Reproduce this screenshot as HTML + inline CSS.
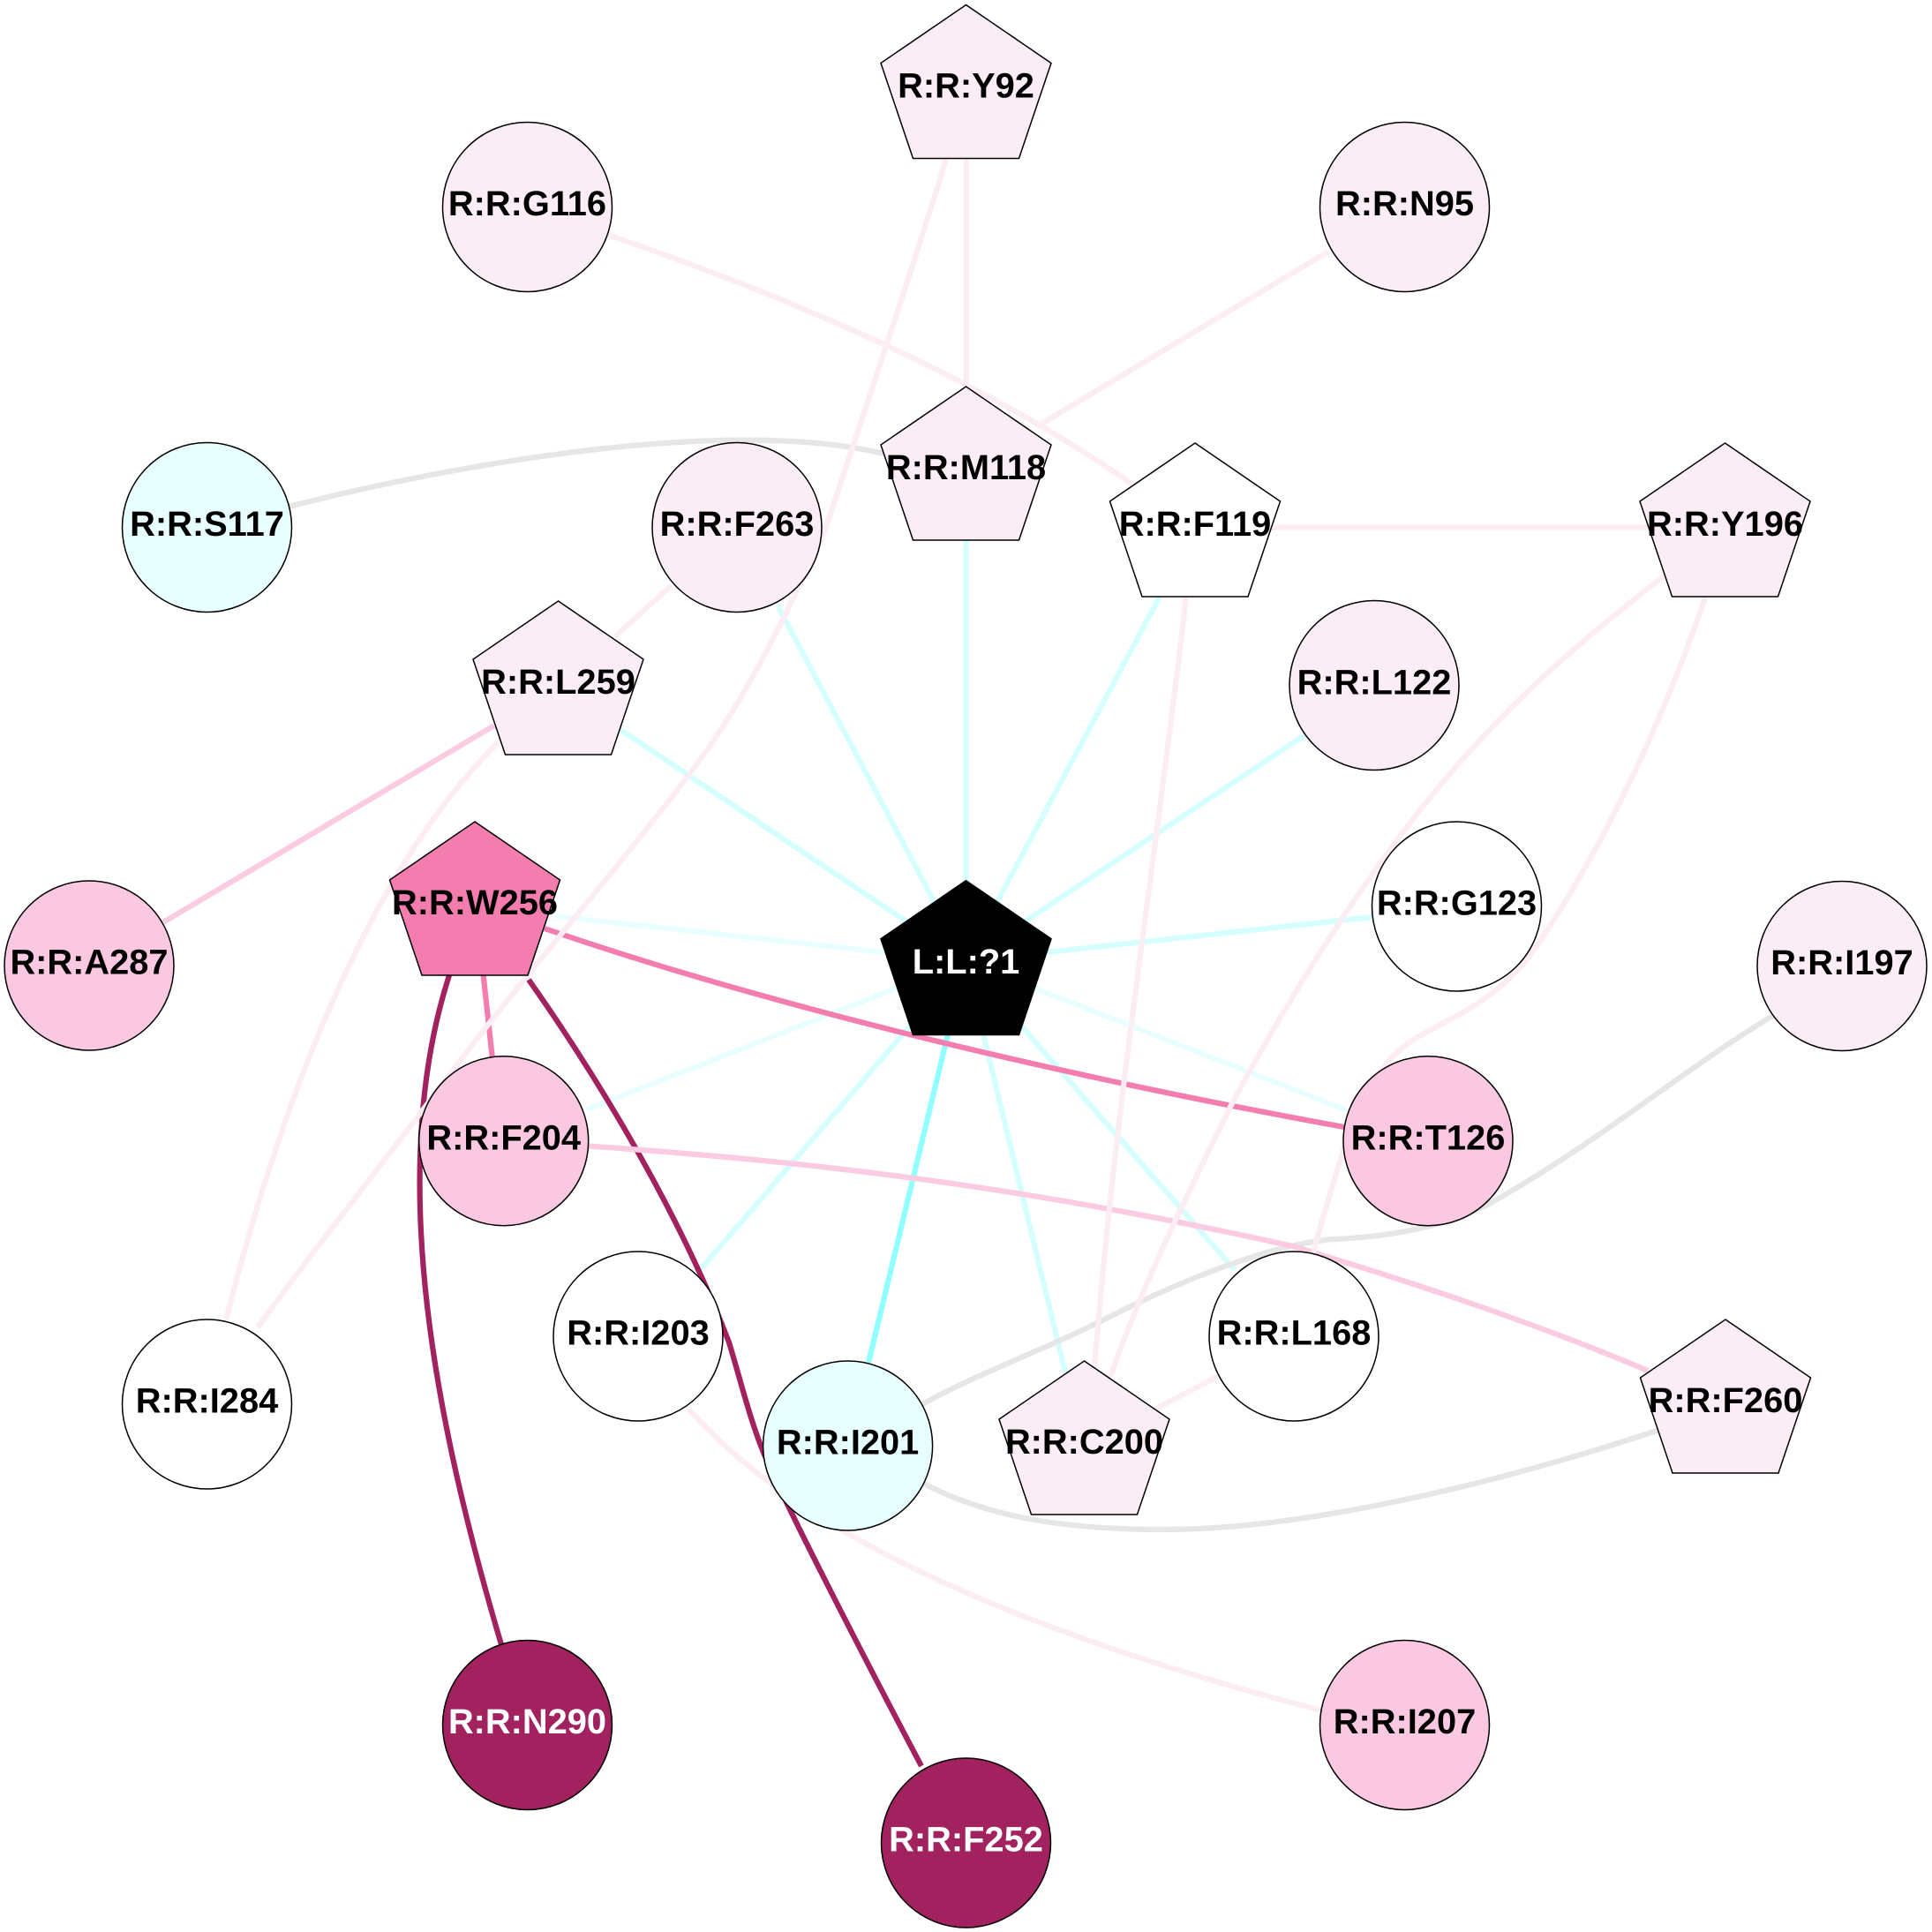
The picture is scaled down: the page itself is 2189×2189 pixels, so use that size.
<!DOCTYPE html>
<html>
<head>
<meta charset="utf-8">
<style>
html,body{margin:0;padding:0;background:#fff;}
svg{display:block;}
text{font-family:"Liberation Sans",Arial,sans-serif;font-weight:bold;font-size:39.8px;text-anchor:middle;fill:#000;text-rendering:geometricPrecision;}
text.w{fill:#fff;}
.n{stroke:#000;stroke-width:1.5;}
.e path,.e line{fill:none;stroke-width:6.2;}
</style>
</head>
<body>
<svg width="2189" height="2189" viewBox="0 0 2189 2189" xmlns="http://www.w3.org/2000/svg">
<rect width="2189" height="2189" fill="#fff"/>
<g class="e" stroke="#d5ffff">
<line x1="702" y1="826" x2="1094" y2="1089"/>
<line x1="881" y1="686" x2="1094" y2="1089"/>
<line x1="1094.5" y1="600" x2="1094.5" y2="1089"/>
<line x1="1315" y1="674" x2="1094" y2="1089"/>
<line x1="1478" y1="833" x2="1094" y2="1089"/>
<line x1="1555" y1="1039" x2="1094" y2="1089"/>
<line x1="1399" y1="1439" x2="1120" y2="1120"/>
<line x1="1207" y1="1555" x2="1094" y2="1089"/>
<line x1="794" y1="1438" x2="1094" y2="1089"/>
<line x1="1526" y1="1258" x2="1094" y2="1089" stroke="#e9ffff"/>
<line x1="665" y1="1257" x2="1094" y2="1089" stroke="#e9ffff"/>
<line x1="628" y1="1038" x2="1094" y2="1089" stroke="#e9ffff"/>
<line x1="984" y1="1544" x2="1094" y2="1089" stroke="#91ffff"/>
</g>
<g class="e" stroke="#e6e6e6">
<path d="M327 574C520 525 830 470 1010 516"/>
<path d="M2010 1150C1910 1210 1810 1295 1689 1363C1640 1390 1570 1402 1510 1404C1440 1410 1340 1450 1255 1493C1180 1531 1110 1555 1045 1591"/>
<path d="M1045 1680C1120 1720 1210 1733 1319 1733C1480 1733 1700 1680 1880 1620"/>
</g>
<g class="e">
<path stroke="#f27dae" d="M617 1052C800 1115 1100 1200 1523 1277"/>
<line stroke="#f27dae" x1="546" y1="1090" x2="558" y2="1200"/>
<path stroke="#a2225f" stroke-width="6.6" d="M509 1105C435 1334 497 1623 567 1860L597 1954"/>
<path stroke="#a2225f" stroke-width="6.6" d="M599 1110C680 1225 770 1375 826 1521C838 1560 850 1610 866 1648C890 1705 980 1880 1044 2001"/>
</g>
<g class="e" stroke="#facbe1">
<path d="M660 1298C860 1312 1120 1335 1465 1412C1590 1450 1730 1495 1867 1553"/>
<line x1="560" y1="822" x2="185" y2="1045"/>
</g>
<g class="e" stroke="#fcecf4">
<path d="M689 266C860 325 1090 415 1282 548"/>
<path d="M1072 180C1045 270 985 450 935 600C890 700 840 800 787 869C720 960 590 1110 513 1213C440 1310 360 1410 292 1504"/>
<path d="M567 839C440 960 330 1200 255 1500"/>
<path d="M780 1596C880 1710 1080 1830 1497 1938"/>
<path d="M1886 652C1780 735 1690 810 1588 945C1510 1050 1450 1150 1395 1252C1360 1325 1300 1440 1258 1560"/>
<path d="M1932 677C1880 830 1810 970 1741 1072C1700 1130 1660 1145 1608 1174C1560 1200 1535 1260 1520 1310C1505 1360 1495 1390 1488 1420"/>
<path d="M1344 677C1305 1010 1265 1240 1240 1550"/>
<line x1="761" y1="663" x2="697" y2="721"/>
<line x1="1094.5" y1="175" x2="1094.5" y2="440"/>
<line x1="1505" y1="285" x2="1177" y2="482"/>
<line x1="1440" y1="597.5" x2="1870" y2="597.5"/>
<line x1="1379" y1="1560" x2="1306" y2="1598"/>
</g>

<g class="n">
<circle cx="597.5" cy="234.5" r="96" fill="#fbedf5"/>
<circle cx="1591.5" cy="234.5" r="96" fill="#fbedf5"/>
<circle cx="234.5" cy="597.5" r="96" fill="#e8ffff"/>
<circle cx="835" cy="597.5" r="96" fill="#fbedf5"/>
<circle cx="1557" cy="776.5" r="96" fill="#fbedf5"/>
<circle cx="101" cy="1094" r="96" fill="#fac8e0"/>
<circle cx="1650.5" cy="1027" r="96" fill="#fff"/>
<circle cx="2087" cy="1094.5" r="96" fill="#fbedf5"/>
<circle cx="570.7" cy="1292.7" r="96" fill="#fac8e0"/>
<circle cx="1618" cy="1292.7" r="96" fill="#fac8e0"/>
<circle cx="723" cy="1514" r="96" fill="#fff"/>
<circle cx="1466" cy="1514" r="96" fill="#fff"/>
<circle cx="234.5" cy="1591" r="96" fill="#fff"/>
<circle cx="960.6" cy="1638" r="96" fill="#e8ffff"/>
<circle cx="597.5" cy="1954.5" r="96" fill="#a2225f"/>
<circle cx="1591.5" cy="1954.5" r="96" fill="#fac8e0"/>
<circle cx="1094.5" cy="2088" r="96" fill="#a2225f"/>

<polygon fill="#fbedf5" points="1094.5,5.5 1191,71.5 1154.5,179.5 1034.5,179.5 998,71.5"/>
<polygon fill="#fbedf5" points="1094.5,438 1191,504 1154.5,612 1034.5,612 998,504"/>
<polygon fill="#ffffff" points="1354,502 1450.5,568 1414,676 1294,676 1257.5,568"/>
<polygon fill="#fbedf5" points="1954.5,502 2051,568 2014.5,676 1894.5,676 1858,568"/>
<polygon fill="#fbedf5" points="632.5,681 729,747 692.5,855 572.5,855 536,747"/>
<polygon fill="#f27dae" points="538,931 634.5,997 598,1105 478,1105 441.5,997"/>
<polygon fill="#000000" points="1094.5,997.7 1191,1063.7 1154.5,1172.5 1034.5,1172.5 998,1063.7"/>
<polygon fill="#fbedf5" points="1228.5,1542 1325,1608 1288.5,1716 1168.5,1716 1132,1608"/>
<polygon fill="#fbedf5" points="1955,1495 2051.5,1561 2015,1669 1895,1669 1858.5,1561"/>
</g>

<text x="597.5" y="244">R:R:G116</text>
<text x="1591.5" y="244">R:R:N95</text>
<text x="234.5" y="607">R:R:S117</text>
<text x="835" y="607">R:R:F263</text>
<text x="1557" y="786.5">R:R:L122</text>
<text x="101" y="1103.5">R:R:A287</text>
<text x="1650.5" y="1036.5">R:R:G123</text>
<text x="2087" y="1104">R:R:I197</text>
<text x="570.7" y="1302.5">R:R:F204</text>
<text x="1618" y="1302.5">R:R:T126</text>
<text x="723" y="1523.5">R:R:I203</text>
<text x="1466" y="1523.5">R:R:L168</text>
<text x="234.5" y="1600.5">R:R:I284</text>
<text x="960.6" y="1647.5">R:R:I201</text>
<text class="w" x="597.5" y="1964">R:R:N290</text>
<text x="1591.5" y="1964">R:R:I207</text>
<text class="w" x="1094.5" y="2097.5">R:R:F252</text>
<text x="1094.5" y="110.5">R:R:Y92</text>
<text x="1094.5" y="543">R:R:M118</text>
<text x="1354" y="607">R:R:F119</text>
<text x="1954.5" y="607">R:R:Y196</text>
<text x="632.5" y="786">R:R:L259</text>
<text x="538" y="1036">R:R:W256</text>
<text class="w" x="1094.5" y="1103">L:L:?1</text>
<text x="1228.5" y="1647">R:R:C200</text>
<text x="1955" y="1600">R:R:F260</text>
</svg>
</body>
</html>
